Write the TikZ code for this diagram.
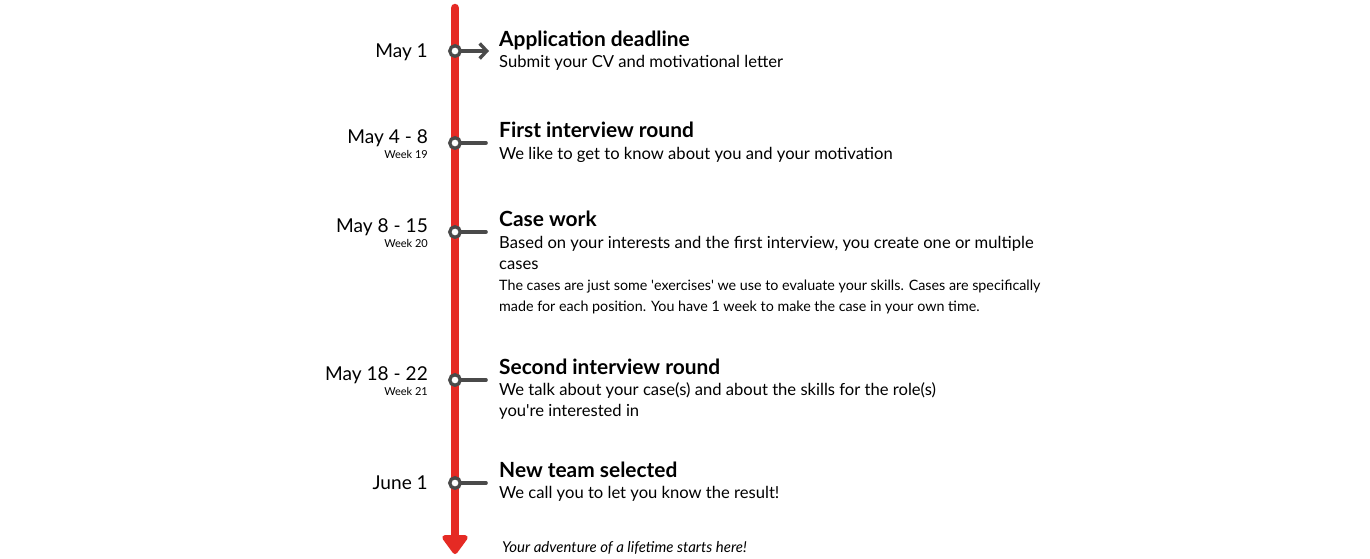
\documentclass[tikz,border=0pt]{standalone}
\usepackage{fontspec}
\setmainfont{Lato}
\usetikzlibrary{arrows.meta}
\definecolor{tlred}{HTML}{E52A24}
\definecolor{tick}{HTML}{4A4A4A}
\tikzset{
  x=1pt,y=-1pt,
  title/.style={anchor=base west,inner sep=0pt,font=\fontsize{20.9}{24}\selectfont\bfseries},
  body/.style={anchor=base west,inner sep=0pt,font=\fontsize{16.6}{19}\selectfont},
  small/.style={anchor=base west,inner sep=0pt,font=\fontsize{14.3}{16}\selectfont},
  date/.style={anchor=base east,inner sep=0pt,font=\fontsize{19.1}{23}\selectfont},
  week/.style={anchor=base east,inner sep=0pt,font=\fontsize{11}{13}\selectfont},
  ring/.style={circle,draw=tick,line width=3.3pt,fill=white,minimum size=10.5pt,inner sep=0pt},
  stem/.style={draw=tick,line width=3.6pt,line cap=round},
}
\begin{document}
\begin{tikzpicture}
\useasboundingbox (0,0) rectangle (1370,558);
\coordinate (top) at (455,8);
\coordinate (bot) at (455,554);
\draw[tlred,line width=8.5pt,line cap=round,-{Triangle[length=21pt,width=29pt,round]}] (top) -- (bot);

% ticks
\foreach \n/\y in {b/143,c/232,d/380,e/483}{
  \coordinate (t\n) at (455,\y);
  \coordinate (e\n) at (486,\y);
  \draw[stem] (t\n) -- (e\n);
}
\coordinate (ta) at (455,51);
\coordinate (ea) at (489,51);
\draw[stem,-{Straight Barb[length=7pt,width=15pt,line width=3.4pt]}] (ta) -- (ea);
\foreach \n in {a,b,c,d,e}{ \node[ring] at (t\n) {}; }

% dates
\node[date] (da) at (428,57) {May 1};
\node[date] (db) at (428,143) {May 4 - 8};
\node[week] (wb) at (428,158) {Week 19};
\node[date] (dc) at (428,232) {May 8 - 15};
\node[week] (wc) at (428,247) {Week 20};
\node[date] (dd) at (428,380) {May 18 - 22};
\node[week] (wd) at (428,395) {Week 21};
\node[date] (de) at (428,489) {June 1};

% texts
\node[title] (ha) at (499,46) {Application deadline};
\node[body] (sa) at (499,67) {Submit your CV and motivational letter};
\node[title] (hb) at (499,137) {First interview round};
\node[body] (sb) at (499,159) {We like to get to know about you and your motivation};
\node[title] (hc) at (499,226) {Case work};
\node[body] (sc1) at (499,248) {Based on your interests and the first interview, you create one or multiple};
\node[body] (sc2) at (499,269) {cases};
\node[small] (sc3) at (499,290) {The cases are just some \textquotesingle exercises\textquotesingle\ we use to evaluate your skills. Cases are specifically};
\node[small] (sc4) at (499,311) {made for each position. You have 1 week to make the case in your own time.};
\node[title] (hd) at (499,374) {Second interview round};
\node[body] (sd1) at (499,395) {We talk about your case(s) and about the skills for the role(s)};
\node[body] (sd2) at (499,416) {you\textquotesingle re interested in};
\node[title] (he) at (499,477) {New team selected};
\node[body] (se) at (499,498) {We call you to let you know the result!};
\node[body,font=\fontsize{15}{17}\selectfont\itshape] (ft) at (502,552) {Your adventure of a lifetime starts here!};
\end{tikzpicture}
\end{document}
